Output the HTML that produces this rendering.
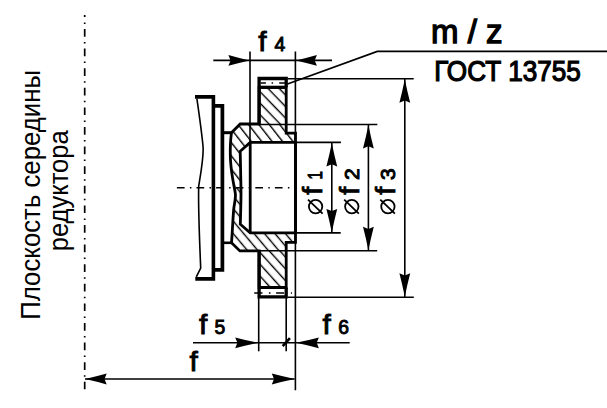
<!DOCTYPE html>
<html><head><meta charset="utf-8"><style>
html,body{margin:0;padding:0;background:#fff;width:607px;height:408px;overflow:hidden}
svg{display:block}
</style></head><body>
<svg width="607" height="408" viewBox="0 0 607 408">
<defs>
<pattern id="hatchHubT" patternUnits="userSpaceOnUse" width="10" height="8.2" patternTransform="rotate(52)">
<rect width="10" height="8.2" fill="#fff"/>
<line x1="-1" y1="3.9" x2="11" y2="3.9" stroke="#000" stroke-width="1.4"/>
</pattern>
<pattern id="hatchHubB" patternUnits="userSpaceOnUse" width="10" height="8" patternTransform="rotate(50)">
<rect width="10" height="8" fill="#fff"/>
<line x1="-1" y1="3.5" x2="11" y2="3.5" stroke="#000" stroke-width="1.4"/>
</pattern>
<pattern id="hatchRimT" patternUnits="userSpaceOnUse" width="10" height="8" patternTransform="rotate(46)">
<rect width="10" height="8" fill="#fff"/>
<line x1="-1" y1="4.6" x2="11" y2="4.6" stroke="#000" stroke-width="1.4"/>
</pattern>
<pattern id="hatchRimB" patternUnits="userSpaceOnUse" width="10" height="7.9" patternTransform="rotate(48)">
<rect width="10" height="7.9" fill="#fff"/>
<line x1="-1" y1="7.3" x2="11" y2="7.3" stroke="#000" stroke-width="1.4"/>
<line x1="-1" y1="-0.6" x2="11" y2="-0.6" stroke="#000" stroke-width="1.4"/>
</pattern>
<clipPath id="clipT"><rect x="0" y="0" width="607" height="187.7"/></clipPath>
<clipPath id="clipB"><rect x="0" y="187.7" width="607" height="220.3"/></clipPath>
</defs>
<rect width="607" height="408" fill="#fff"/>
<line x1="84.7" y1="15" x2="84.7" y2="389.3" stroke="#000" stroke-width="1.7" stroke-dasharray="7.7 5.3 1.5 5.1" stroke-dashoffset="5.6"/>
<path d="M240.2,124.0 L259.1,124.0 L259.1,87.3 L286.2,87.3 L286.2,133.2 L295.5,133.2 L295.5,242.4 L286.2,242.4 L286.2,287.5 L259.1,287.5 L259.1,250.9 L239.9,250.9 L231.50,242.80 C231.63,240.83 232.05,234.97 232.30,231.00 C232.55,227.03 232.75,222.75 233.00,219.00 C233.25,215.25 233.45,211.72 233.80,208.50 C234.15,205.28 234.83,202.12 235.10,199.70 C235.37,197.28 235.57,196.20 235.40,194.00 C235.23,191.80 234.58,189.23 234.10,186.50 C233.62,183.77 232.97,180.55 232.50,177.60 C232.03,174.65 231.63,171.73 231.30,168.80 C230.97,165.87 230.67,163.13 230.50,160.00 C230.33,156.87 230.27,153.33 230.30,150.00 C230.33,146.67 230.50,142.88 230.70,140.00 C230.90,137.12 231.37,133.92 231.50,132.70 Z" fill="url(#hatchHubT)" clip-path="url(#clipT)"/>
<path d="M240.2,124.0 L259.1,124.0 L259.1,87.3 L286.2,87.3 L286.2,133.2 L295.5,133.2 L295.5,242.4 L286.2,242.4 L286.2,287.5 L259.1,287.5 L259.1,250.9 L239.9,250.9 L231.50,242.80 C231.63,240.83 232.05,234.97 232.30,231.00 C232.55,227.03 232.75,222.75 233.00,219.00 C233.25,215.25 233.45,211.72 233.80,208.50 C234.15,205.28 234.83,202.12 235.10,199.70 C235.37,197.28 235.57,196.20 235.40,194.00 C235.23,191.80 234.58,189.23 234.10,186.50 C233.62,183.77 232.97,180.55 232.50,177.60 C232.03,174.65 231.63,171.73 231.30,168.80 C230.97,165.87 230.67,163.13 230.50,160.00 C230.33,156.87 230.27,153.33 230.30,150.00 C230.33,146.67 230.50,142.88 230.70,140.00 C230.90,137.12 231.37,133.92 231.50,132.70 Z" fill="url(#hatchHubB)" clip-path="url(#clipB)"/>
<rect x="259.1" y="87.3" width="27.099999999999966" height="37.7" fill="url(#hatchRimT)"/>
<rect x="259.1" y="249.9" width="27.099999999999966" height="37.599999999999994" fill="url(#hatchRimB)"/>
<path d="M250.2,142.4 L295.5,142.4 L295.5,232.9 L250.2,232.9 L240.30,224.20 C240.37,221.83 240.58,214.87 240.70,210.00 C240.82,205.13 240.97,199.17 241.00,195.00 C241.03,190.83 240.97,189.17 240.90,185.00 C240.83,180.83 240.72,175.62 240.60,170.00 C240.48,164.38 240.27,154.42 240.20,151.30 Z" fill="#fff"/>
<line x1="176.9" y1="187.7" x2="291" y2="187.7" stroke="#000" stroke-width="1.5" stroke-dasharray="7.7 5.3 1.5 5.1"/>
<path d="M240.2,124.0 L259.1,124.0 L259.1,87.3 L286.2,87.3 L286.2,133.2 L295.5,133.2 L295.5,242.4 L286.2,242.4 L286.2,287.5 L259.1,287.5 L259.1,250.9 L239.9,250.9 L231.50,242.80 C231.63,240.83 232.05,234.97 232.30,231.00 C232.55,227.03 232.75,222.75 233.00,219.00 C233.25,215.25 233.45,211.72 233.80,208.50 C234.15,205.28 234.83,202.12 235.10,199.70 C235.37,197.28 235.57,196.20 235.40,194.00 C235.23,191.80 234.58,189.23 234.10,186.50 C233.62,183.77 232.97,180.55 232.50,177.60 C232.03,174.65 231.63,171.73 231.30,168.80 C230.97,165.87 230.67,163.13 230.50,160.00 C230.33,156.87 230.27,153.33 230.30,150.00 C230.33,146.67 230.50,142.88 230.70,140.00 C230.90,137.12 231.37,133.92 231.50,132.70 Z" stroke="#000" fill="none" stroke-linejoin="miter" stroke-width="2.8"/>
<path d="M250.2,142.4 L295.5,142.4 L295.5,232.9 L250.2,232.9 L240.30,224.20 C240.37,221.83 240.58,214.87 240.70,210.00 C240.82,205.13 240.97,199.17 241.00,195.00 C241.03,190.83 240.97,189.17 240.90,185.00 C240.83,180.83 240.72,175.62 240.60,170.00 C240.48,164.38 240.27,154.42 240.20,151.30 Z" stroke="#000" fill="none" stroke-linejoin="miter" stroke-width="2.8"/>
<line x1="250.2" y1="142.4" x2="250.2" y2="232.9" stroke="#000" stroke-width="2.8"/>
<path d="M259.1,124.0 V78.5 H286.2 V87.3" stroke="#000" fill="none" stroke-linejoin="miter" stroke-width="3.3"/>
<path d="M259.1,250.9 V296.9 H286.2 V287.5" stroke="#000" fill="none" stroke-linejoin="miter" stroke-width="3.3"/>
<line x1="259.1" y1="87.3" x2="286.2" y2="87.3" stroke="#000" stroke-width="3.2"/>
<line x1="259.1" y1="287.5" x2="286.2" y2="287.5" stroke="#000" stroke-width="3"/>
<line x1="260.6" y1="83.1" x2="285" y2="83.1" stroke="#000" stroke-width="1.5" stroke-dasharray="5.3 5.7 1.5 6.1 8"/>
<line x1="254.2" y1="292.9" x2="292" y2="292.9" stroke="#000" stroke-width="1.5" stroke-dasharray="8.3 6.4 1.6 5.6 8 6.8 1.2 100"/>
<path d="M195,96.9 H213.4 V278.9 H195.3" stroke="#000" fill="none" stroke-linejoin="miter" stroke-width="3.6"/>
<path d="M213.4,105.9 H222.4 V269.8 H213.4" stroke="#000" fill="none" stroke-linejoin="miter" stroke-width="3.7"/>
<line x1="222.4" y1="132.7" x2="232" y2="132.7" stroke="#000" stroke-width="3"/>
<line x1="222.4" y1="242.8" x2="232" y2="242.8" stroke="#000" stroke-width="2.6"/>
<path d="M196.9,98.6 C198.5,110 201.5,130 203,146 C204,156 201,172 198.7,186 C198.3,200 199.5,240 200.7,268 L196.3,276.8" fill="none" stroke="#000" stroke-width="1.6"/>
<line x1="250" y1="51.4" x2="250" y2="142.4" stroke="#000" stroke-width="1.6"/>
<line x1="295.4" y1="51.4" x2="295.4" y2="390.3" stroke="#000" stroke-width="1.6"/>
<line x1="213.3" y1="60.4" x2="332" y2="60.4" stroke="#000" stroke-width="1.6"/>
<path d="M249.40,60.40 Q238.90,62.78 228.40,65.80 L230.60,60.40 L228.40,55.00 Q238.90,58.02 249.40,60.40 Z" fill="#000"/>
<path d="M295.90,60.40 Q306.40,58.02 316.90,55.00 L314.70,60.40 L316.90,65.80 Q306.40,62.78 295.90,60.40 Z" fill="#000"/>
<polyline points="287.5,84 377.3,51.4 607,51.4" fill="none" stroke="#000" stroke-width="1.6"/>
<line x1="287.6" y1="78.7" x2="413.7" y2="78.7" stroke="#000" stroke-width="1.6"/>
<line x1="287.6" y1="297.2" x2="413.8" y2="297.2" stroke="#000" stroke-width="1.6"/>
<line x1="260" y1="124.5" x2="377.3" y2="124.5" stroke="#000" stroke-width="1.6"/>
<line x1="260" y1="250.8" x2="377.2" y2="250.8" stroke="#000" stroke-width="1.6"/>
<line x1="296.5" y1="142.4" x2="340.9" y2="142.4" stroke="#000" stroke-width="1.6"/>
<line x1="296.5" y1="232.9" x2="340.7" y2="232.9" stroke="#000" stroke-width="1.6"/>
<line x1="331.8" y1="142.4" x2="331.8" y2="232.9" stroke="#000" stroke-width="1.6"/>
<path d="M331.80,142.90 Q334.18,154.65 337.20,166.40 L331.80,164.20 L326.40,166.40 Q329.42,154.65 331.80,142.90 Z" fill="#000"/>
<path d="M331.80,232.40 Q329.42,220.65 326.40,208.90 L331.80,211.10 L337.20,208.90 Q334.18,220.65 331.80,232.40 Z" fill="#000"/>
<line x1="368.4" y1="124.5" x2="368.4" y2="250.8" stroke="#000" stroke-width="1.6"/>
<path d="M368.40,125.00 Q370.78,136.75 373.80,148.50 L368.40,146.30 L363.00,148.50 Q366.02,136.75 368.40,125.00 Z" fill="#000"/>
<path d="M368.40,250.30 Q366.02,238.55 363.00,226.80 L368.40,229.00 L373.80,226.80 Q370.78,238.55 368.40,250.30 Z" fill="#000"/>
<line x1="404.8" y1="78.7" x2="404.8" y2="297.2" stroke="#000" stroke-width="1.6"/>
<path d="M404.80,79.20 Q407.18,90.95 410.20,102.70 L404.80,100.50 L399.40,102.70 Q402.42,90.95 404.80,79.20 Z" fill="#000"/>
<path d="M404.80,296.70 Q402.42,284.95 399.40,273.20 L404.80,275.40 L410.20,273.20 Q407.18,284.95 404.80,296.70 Z" fill="#000"/>
<line x1="193" y1="342.8" x2="349.7" y2="342.8" stroke="#000" stroke-width="1.6"/>
<path d="M258.20,342.80 Q246.70,345.18 235.20,348.20 L237.40,342.80 L235.20,337.40 Q246.70,340.42 258.20,342.80 Z" fill="#000"/>
<path d="M295.90,342.80 Q307.40,340.42 318.90,337.40 L316.70,342.80 L318.90,348.20 Q307.40,345.18 295.90,342.80 Z" fill="#000"/>
<line x1="282.7" y1="346.2" x2="289.9" y2="338.1" stroke="#000" stroke-width="2.6"/>
<line x1="258.7" y1="298" x2="258.7" y2="351.3" stroke="#000" stroke-width="1.6"/>
<line x1="286.2" y1="298" x2="286.2" y2="351.3" stroke="#000" stroke-width="1.6"/>
<line x1="85" y1="379" x2="294.6" y2="379" stroke="#000" stroke-width="1.6"/>
<path d="M85.20,379.00 Q95.95,376.62 106.70,373.60 L104.50,379.00 L106.70,384.40 Q95.95,381.38 85.20,379.00 Z" fill="#000"/>
<path d="M294.80,379.00 Q283.30,381.38 271.80,384.40 L274.00,379.00 L271.80,373.60 Q283.30,376.62 294.80,379.00 Z" fill="#000"/>
<circle cx="315.6" cy="206.6" r="6.7" fill="none" stroke="#000" stroke-width="1.8"/>
<line x1="308.0" y1="199.6" x2="322.6" y2="213.6" stroke="#000" stroke-width="1.8"/>
<circle cx="351.8" cy="206.6" r="6.7" fill="none" stroke="#000" stroke-width="1.8"/>
<line x1="344.2" y1="199.6" x2="358.8" y2="213.6" stroke="#000" stroke-width="1.8"/>
<circle cx="387.9" cy="206.6" r="6.7" fill="none" stroke="#000" stroke-width="1.8"/>
<line x1="380.29999999999995" y1="199.6" x2="394.9" y2="213.6" stroke="#000" stroke-width="1.8"/>
<text transform="translate(431,42.7)" font-family="Liberation Sans, sans-serif" font-size="33" stroke="#000" stroke-width="1.3">m / z</text>
<text transform="translate(434.2,81) scale(0.9,1)" font-family="Liberation Sans, sans-serif" font-size="29" stroke="#000" stroke-width="1.25">ГОСТ 13755</text>
<text transform="translate(258.2,51.2) scale(1.05,1)" font-family="Liberation Sans, sans-serif" font-size="28.5" stroke="#000" stroke-width="0.85">f</text><text transform="translate(274.59999999999997,51.2) scale(0.92,1)" font-family="Liberation Sans, sans-serif" font-size="21" stroke="#000" stroke-width="1.0">4</text>
<text transform="translate(199.0,333.6) scale(1.05,1)" font-family="Liberation Sans, sans-serif" font-size="28.5" stroke="#000" stroke-width="0.85">f</text><text transform="translate(214.6,333.6) scale(0.92,1)" font-family="Liberation Sans, sans-serif" font-size="21" stroke="#000" stroke-width="1.0">5</text>
<text transform="translate(322.6,333.6) scale(1.05,1)" font-family="Liberation Sans, sans-serif" font-size="28.5" stroke="#000" stroke-width="0.85">f</text><text transform="translate(338.20000000000005,333.6) scale(0.92,1)" font-family="Liberation Sans, sans-serif" font-size="21" stroke="#000" stroke-width="1.0">6</text>
<text transform="translate(189.6,370.7) scale(1.05,1)" font-family="Liberation Sans, sans-serif" font-size="28.5" stroke="#000" stroke-width="0.85">f</text>
<text transform="translate(321.8,194.8) rotate(-90)" font-family="Liberation Sans, sans-serif" font-size="28.5" stroke="#000" stroke-width="0.85">f</text>
<text transform="translate(321.90000000000003,179.6) rotate(-90) scale(0.72,1)" font-family="Liberation Sans, sans-serif" font-size="21" stroke="#000" stroke-width="1.0">1</text>
<text transform="translate(359.0,194.8) rotate(-90)" font-family="Liberation Sans, sans-serif" font-size="28.5" stroke="#000" stroke-width="0.85">f</text>
<text transform="translate(359.1,180.0) rotate(-90)" font-family="Liberation Sans, sans-serif" font-size="21" stroke="#000" stroke-width="1.0">2</text>
<text transform="translate(395.1,194.8) rotate(-90)" font-family="Liberation Sans, sans-serif" font-size="28.5" stroke="#000" stroke-width="0.85">f</text>
<text transform="translate(395.20000000000005,180.0) rotate(-90)" font-family="Liberation Sans, sans-serif" font-size="21" stroke="#000" stroke-width="1.0">3</text>
<text transform="translate(39.5,194.9) rotate(-90) scale(0.955,1)" font-family="Liberation Sans, sans-serif" font-size="27" text-anchor="middle">Плоскость середины</text>
<text transform="translate(68,190.8) rotate(-90) scale(0.945,1)" font-family="Liberation Sans, sans-serif" font-size="27" text-anchor="middle">редуктора</text>
</svg>
</body></html>
